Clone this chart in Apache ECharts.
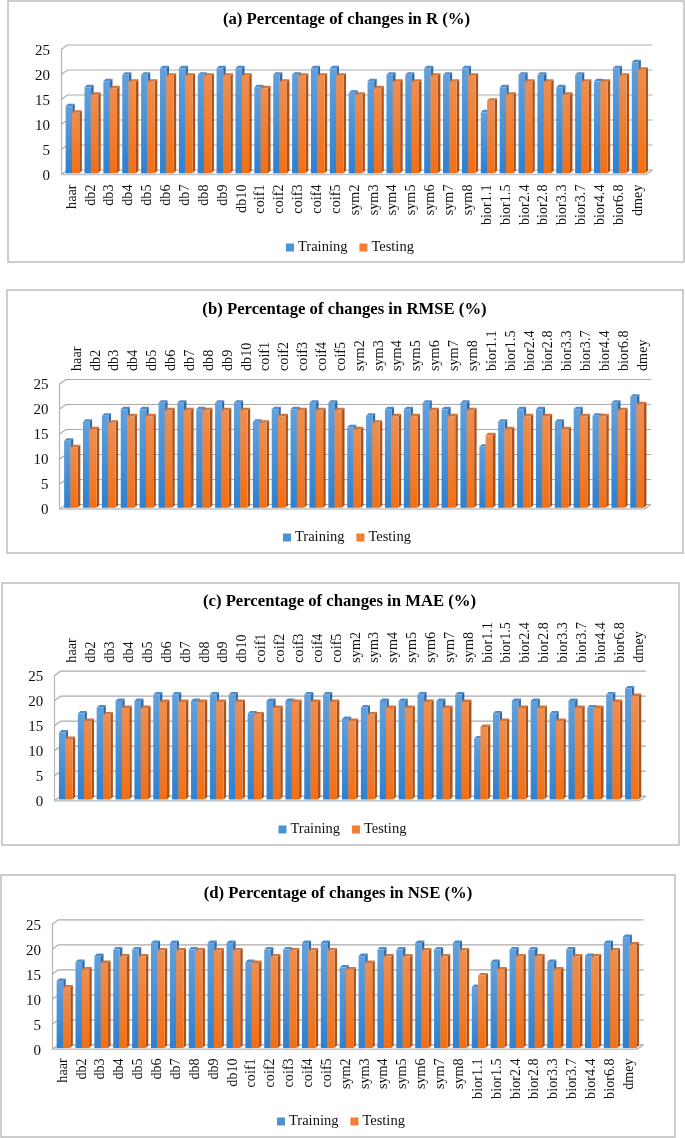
<!DOCTYPE html>
<html><head><meta charset="utf-8">
<script src="https://cdn.jsdelivr.net/npm/echarts@6/dist/echarts.min.js"></script>
<style>html,body{margin:0;padding:0;background:#fff}#c{width:685px;height:1138px}</style>
</head><body><div id="c"></div>
<script>
const categories = ['haar','db2','db3','db4','db5','db6','db7','db8','db9','db10','coif1','coif2','coif3','coif4','coif5','sym2','sym3','sym4','sym5','sym6','sym7','sym8','bior1.1','bior1.5','bior2.4','bior2.8','bior3.3','bior3.7','bior4.4','bior6.8','dmey'];
const training = [13.4,17.2,18.4,19.7,19.7,21,21,19.7,21,21,17.2,19.7,19.7,21,21,16.1,18.4,19.7,19.7,21,19.7,21,12.2,17.2,19.7,19.7,17.2,19.7,18.4,21,22.2];
const testing = [12.1,15.7,17,18.3,18.3,19.5,19.5,19.5,19.5,19.5,17,18.3,19.5,19.5,19.5,15.7,17,18.3,18.3,19.5,18.3,19.5,14.5,15.7,18.3,18.3,15.7,18.3,18.3,19.5,20.7];
const yTicks = [0,5,10,15,20,25];
const titles = ['(a) Percentage of changes in R (%)','(b) Percentage of changes in RMSE (%)','(c) Percentage of changes in MAE (%)','(d) Percentage of changes in NSE (%)'];

// layout of the four panels
const panels = [
  {frame:[8,1,676,261],  left:61,   y25:49.5,  y0:174.5,  titleX:346.5, titleY:19,  legendX:286, legendY:246, labels:'bottom', margin:10, shift:3},
  {frame:[7,290,676,263],left:59.5, y25:384,   y0:509,    titleX:344.5, titleY:309, legendX:283, legendY:536, labels:'top',    margin:13, shift:16},
  {frame:[2,583,677,262],left:54.3, y25:675.7, y0:800.7,  titleX:339.5, titleY:601, legendX:278.5,legendY:828, labels:'top',   margin:13, shift:18},
  {frame:[1,875,674,262],left:52,   y25:924.3, y0:1049.3, titleX:338,   titleY:893, legendX:277, legendY:1120,labels:'bottom', margin:9,  shift:3}
];
const plotW = 585, W = 685, H = 1138;
const wallDx = 6.5, wallDy = 4.5, FONT = '"Liberation Serif","Times New Roman",serif';

const grad = (a,b) => new echarts.graphic.LinearGradient(0,0,0,1,[{offset:0,color:a},{offset:1,color:b}]);

function barRenderer(leftOff, barW, cols){
  return function(params, api){
    const p = api.coord([api.value(0), api.value(1)]);
    const base = api.coord([api.value(0), 0]);
    const d = 2.5, lift = 1.2;
    const x0 = p[0] + leftOff, x1 = x0 + barW;
    const yT = p[1] - lift, yB = base[1] - lift;
    return {type:'group', children:[
      {type:'polygon', shape:{points:[[x1,yT],[x1+d,yT-d],[x1+d,yB-d],[x1,yB]]}, style:{fill:cols.side}},
      {type:'polygon', shape:{points:[[x0,yT],[x0+d,yT-d],[x1+d,yT-d],[x1,yT]]}, style:{fill:cols.top}},
      {type:'rect', shape:{x:x0,y:yT,width:barW,height:yB-yT}, style:{fill:grad(cols.a,cols.b)}}
    ]};
  };
}
function wallRenderer(params, api){
  const cs = params.coordSys;
  const y = api.coord([0, api.value(0)])[1];
  const xL = cs.x, xR = cs.x + cs.width;
  const kids = [{type:'polyline', shape:{points:[[xL,y],[xL+wallDx,y-wallDy],[xR+wallDx,y-wallDy]]},
    style:{fill:null,stroke:'#ABABAB',lineWidth:1.2}}];
  if (api.value(0) === 0) {
    kids.push({type:'line', shape:{x1:xR,y1:y,x2:xR+wallDx,y2:y-wallDy}, style:{stroke:'#ABABAB',lineWidth:1.2}});
    kids.push({type:'line', shape:{x1:xL,y1:y,x2:xR,y2:y}, style:{stroke:'#B9C4CE',lineWidth:1.4}});
  }
  return {type:'group', children:kids};
}

const blue = {a:'#62A0DC', b:'#2F80CF', side:'#2E6AA6', top:'#4E8CCB'};
const orange = {a:'#EE8E50', b:'#F26F14', side:'#A9521C', top:'#D2753A'};

const grid=[], xAxis=[], yAxis=[], title=[], legend=[], series=[], graphic=[];
panels.forEach((pn,i)=>{
  grid.push({left:pn.left, top:pn.y25, width:plotW, height:pn.y0-pn.y25, containLabel:false});
  xAxis.push({type:'category', gridIndex:i, data:categories, position:pn.labels,
    axisTick:{show:false}, axisLine:{show:false},
    axisLabel:{interval:0, rotate:90, margin:pn.margin, hideOverlap:false,
      formatter:v=>'{t|'+v+'}',
      rich:{t:{fontFamily:FONT, fontSize:14.2, color:'#111', padding:[pn.shift,0,0,0]}}}});
  yAxis.push({type:'value', gridIndex:i, min:0, max:25, interval:5,
    axisLine:{show:true,lineStyle:{color:'#B5B5B5',width:1.2}}, axisTick:{show:false}, splitLine:{show:false},
    axisLabel:{margin:11, formatter:'{t|{value}}',
      rich:{t:{fontFamily:FONT, fontSize:15, color:'#111', padding:[3,0,0,0]}}}});
  title.push({text:titles[i], left:pn.titleX, top:pn.titleY-8, textAlign:'center',
    textStyle:{fontFamily:FONT, fontWeight:'bold', fontSize:16.7, color:'#000'}, padding:0});
  legend.push({data:['Training','Testing'], left:pn.legendX, top:pn.legendY-6, padding:0, icon:'rect', itemWidth:8, itemHeight:8,
    itemGap:12, selectedMode:false, textStyle:{fontFamily:FONT, fontSize:14.5, color:'#111', padding:[0,0,0,-1]}});
  graphic.push({type:'rect', silent:true, z:-1, shape:{x:pn.frame[0],y:pn.frame[1],width:pn.frame[2],height:pn.frame[3]},
    style:{fill:'#fff',stroke:'#BDBDBD',lineWidth:1.5}});
  series.push({type:'custom', name:'wall'+i, xAxisIndex:i, yAxisIndex:i, data:yTicks.map(v=>[v]), encode:{y:0}, renderItem:wallRenderer, silent:true, z:1, animation:false});
  series.push({type:'custom', name:'Training', xAxisIndex:i, yAxisIndex:i, z:3, animation:false, silent:true,
    itemStyle:{color:'#4C93D6'}, encode:{x:0,y:1}, data:training.map((v,k)=>[k,v]), renderItem:barRenderer(-4.8,6.6,blue)});
  series.push({type:'custom', name:'Testing', xAxisIndex:i, yAxisIndex:i, z:4, animation:false, silent:true,
    itemStyle:{color:'#F07F33'}, encode:{x:0,y:1}, data:testing.map((v,k)=>[k,v]), renderItem:barRenderer(1.5,7.4,orange)});
});

const chart = echarts.init(document.getElementById('c'), null, {renderer:'canvas', width:W, height:H});
chart.setOption({animation:false, backgroundColor:'#fff', grid, xAxis, yAxis, title, legend, series, graphic:{elements:graphic}, tooltip:{show:false}});
</script></body></html>
